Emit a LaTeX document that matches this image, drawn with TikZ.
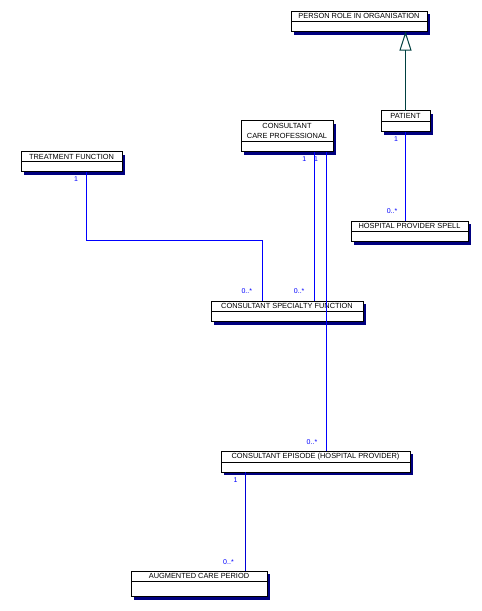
\documentclass[tikz,border=0pt]{standalone}
\usepackage{fontspec}
\setmainfont{Liberation Sans}
\usetikzlibrary{arrows.meta,shadows}
\definecolor{shadenavy}{RGB}{0,0,128}
\definecolor{linkblue}{RGB}{0,0,255}
\definecolor{linkdark}{RGB}{0,0,215}
\definecolor{isateal}{RGB}{0,64,64}

\begin{document}
\begin{tikzpicture}[
    x=1pt, y=-1pt,
    every node/.style={font=\fontsize{7.4}{10}\selectfont},
    head/.style={draw, fill=white, line width=1pt, anchor=north west,
        inner sep=0pt, outer sep=0pt, align=center,
        general shadow={fill=shadenavy, shadow xshift=3pt, shadow yshift=-3pt}},
    body/.style={head, minimum height=10},
    assoc/.style={linkblue, line width=1pt},
    mult/.style={text=linkblue, inner sep=0pt, font=\fontsize{7}{8}\selectfont},
    isa/.style={isateal, line width=1pt, -{Triangle[open, length=19pt, width=12pt]}}
]
\useasboundingbox (0,0) rectangle (482,611);

% classes
\node[head, minimum width=136, minimum height=10.5] (pro) at (291,11) {PERSON ROLE IN ORGANISATION};
\node[body, minimum width=136] (pro-b) at (pro.south west) {};

\node[head, minimum width=49, minimum height=11] (pat) at (381,110.7) {PATIENT};
\node[body, minimum width=49] (pat-b) at (pat.south west) {};

\node[head, minimum width=92, minimum height=21] (ccp) at (241,120.7) {CONSULTANT\\CARE PROFESSIONAL};
\node[body, minimum width=92] (ccp-b) at (ccp.south west) {};

\node[head, minimum width=101, minimum height=10] (tf) at (21,151.7) {TREATMENT FUNCTION};
\node[body, minimum width=101] (tf-b) at (tf.south west) {};

\node[head, minimum width=117, minimum height=10.5] (hps) at (351,221) {HOSPITAL PROVIDER SPELL};
\node[body, minimum width=117] (hps-b) at (hps.south west) {};

\node[head, minimum width=152, minimum height=10.5] (csf) at (211,301) {CONSULTANT SPECIALTY FUNCTION};
\node[body, minimum width=152] (csf-b) at (csf.south west) {};

\node[head, minimum width=189, minimum height=11] (ce) at (221,451) {CONSULTANT EPISODE (HOSPITAL PROVIDER)};
\node[body, minimum width=189] (ce-b) at (ce.south west) {};

\node[head, minimum width=136, minimum height=10.5] (acp) at (131,571) {AUGMENTED CARE PERIOD};
\node[body, minimum width=136, minimum height=15] (acp-b) at (acp.south west) {};

% generalisation
\draw[isa] (pat.north) -- (pat.north |- pro-b.south);

% associations
\draw[assoc] ([xshift=15pt]tf-b.south) node[mult, xshift=-10.5pt, yshift=-7.3pt] {1}
    -- ++(0,68.8) -| ([xshift=-24.5pt]csf.north) node[mult, xshift=-15.7pt, yshift=10pt] {0..*};
\draw[assoc] ([xshift=27.5pt]ccp-b.south) node[mult, xshift=-10.3pt, yshift=-7.3pt] {1}
    -- ([xshift=27.5pt]csf.north) node[mult, xshift=-15.3pt, yshift=9.5pt] {0..*};
\draw[assoc] ([xshift=39.5pt]ccp-b.south) node[mult, xshift=-10.5pt, yshift=-7.3pt] {1}
    -- ([xshift=11pt]ce.north) node[mult, xshift=-14.5pt, yshift=9pt] {0..*};
\draw[assoc] (pat-b.south) node[mult, xshift=-9.5pt, yshift=-7.3pt] {1}
    -- (pat-b.south |- hps.north) node[mult, xshift=-13.5pt, yshift=10pt] {0..*};
\draw[assoc, linkdark] ([xshift=-70pt]ce-b.south) node[mult, xshift=-10pt, yshift=-8pt] {1}
    -- ([xshift=-70pt]ce-b.south |- acp.north) node[mult, xshift=-17pt, yshift=9pt] {0..*};
\end{tikzpicture}
\end{document}
